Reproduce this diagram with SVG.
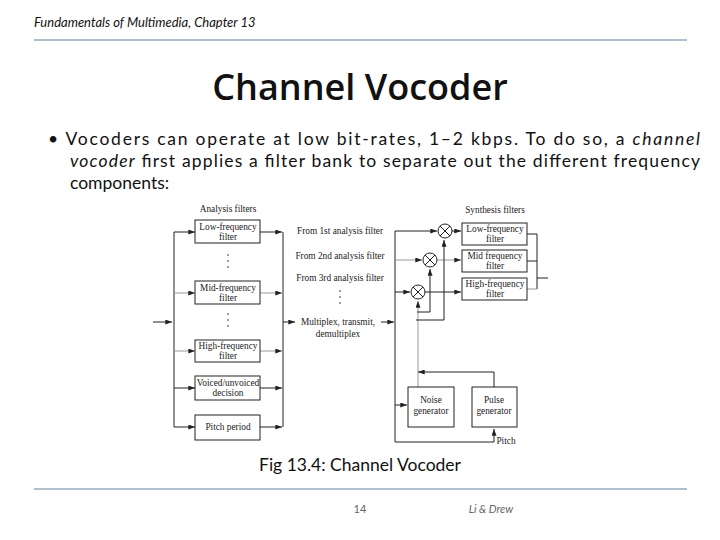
<svg xmlns="http://www.w3.org/2000/svg" width="720" height="540" viewBox="0 0 720 540">
<style>
.s{font-family:"Liberation Serif",serif;font-size:9.3px;fill:#222;text-anchor:middle}
.b{fill:#fff;stroke:#222;stroke-width:1}
.l{fill:none;stroke:#222;stroke-width:1}
.g{fill:none;stroke:#999;stroke-width:1}
.t{font-family:"Lato","Open Sans",sans-serif;fill:#111}
.dot{fill:#222}
</style>
<defs><marker id="a" viewBox="0 0 8 6" refX="8" refY="3" markerWidth="7" markerHeight="5" orient="auto" markerUnits="userSpaceOnUse"><path d="M0,0L8,3L0,6z" fill="#222"/></marker></defs>
<rect width="720" height="540" fill="#fff"/>
<text x="34" y="27" class="t" font-size="13" font-style="italic">Fundamentals of Multimedia, Chapter 13</text>
<line x1="34" y1="40" x2="687" y2="40" stroke="#5b7fa6" stroke-width="1"/>
<text x="360" y="100" font-family="'Open Sans',sans-serif" font-size="36" font-weight="600" fill="#111" text-anchor="middle">Channel Vocoder</text>
<text x="48" y="145" class="t" font-size="17.5" textLength="652" lengthAdjust="spacing">• Vocoders can operate at low bit-rates, 1–2 kbps. To do so, a <tspan font-style="italic">channel</tspan></text>
<text x="70" y="167" class="t" font-size="17.5" textLength="630" lengthAdjust="spacing"><tspan font-style="italic">vocoder</tspan> first applies a filter bank to separate out the different frequency</text>
<text x="70" y="189" class="t" font-size="17.5">components:</text>
<g id="connectors">
<path class="l" d="M153,322H172"  marker-end="url(#a)"/>
<path class="l" d="M174,232V427"/>
<path class="l" d="M174,232H195" marker-end="url(#a)"/>
<path class="g" d="M174,293H195" marker-end="url(#a)"/>
<path class="g" d="M174,351H195" marker-end="url(#a)"/>
<path class="l" d="M174,388H195" marker-end="url(#a)"/>
<path class="l" d="M174,427H195" marker-end="url(#a)"/>
<path class="l" d="M260,232H282" marker-end="url(#a)"/>
<path class="g" d="M260,293H282" marker-end="url(#a)"/>
<path class="g" d="M260,351H282" marker-end="url(#a)"/>
<path class="l" d="M260,388H282" marker-end="url(#a)"/>
<path class="l" d="M260,427H282" marker-end="url(#a)"/>
<path class="l" d="M283,232V427"/>
<path class="l" d="M283,322H295" marker-end="url(#a)"/>
<path class="l" d="M381,322H394" marker-end="url(#a)"/>
<path class="l" d="M395,231V442H494V429" marker-end="url(#a)"/>
<path class="l" d="M395,231H437" marker-end="url(#a)"/>
<path class="g" d="M396,260H422" marker-end="url(#a)"/>
<path class="l" d="M395,292H410" marker-end="url(#a)"/>
<path class="l" d="M395,405H407" marker-end="url(#a)"/>
<path class="l" d="M452,231H461" marker-end="url(#a)"/>
<path class="g" d="M437,260H461" marker-end="url(#a)"/>
<path class="l" d="M425,292H461" marker-end="url(#a)"/>
<path class="g" d="M418,387V301" marker-end="url(#a)"/>
<path class="l" d="M417,312H430V269" marker-end="url(#a)"/>
<path class="l" d="M416,320H444V240" marker-end="url(#a)"/>
<path class="l" d="M494,387V372H418" marker-end="url(#a)"/>
<path class="l" d="M527,234H537M527,261H537M537,234V289M537,278H548"/>
<path class="g" d="M527,289H537"/>
</g>
<g id="mult1"><circle cx="445" cy="231" r="7" class="b"/><path class="l" d="M440,226L450,236M450,226L440,236"/></g>
<g id="mult2"><circle cx="430" cy="260" r="7" class="b"/><path class="l" d="M425,255L435,265M435,255L425,265"/></g>
<g id="mult3"><circle cx="418" cy="292" r="7" class="b"/><path class="l" d="M413,287L423,297M423,287L413,297"/></g>
<g id="analysis">
<text x="228" y="212" class="s">Analysis filters</text>
<g id="a-low"><rect x="195" y="220" width="65" height="23" class="b"/><text x="228" y="230" class="s">Low-frequency</text><text x="228" y="240" class="s">filter</text></g>
<circle cx="228" cy="255" r="0.8" class="dot"/><circle cx="228" cy="261" r="0.8" class="dot"/><circle cx="228" cy="267" r="0.8" class="dot"/>
<g id="a-mid"><rect x="195" y="281" width="65" height="23" class="b"/><text x="228" y="291" class="s">Mid-frequency</text><text x="228" y="301" class="s">filter</text></g>
<circle cx="228" cy="314" r="0.8" class="dot"/><circle cx="228" cy="320" r="0.8" class="dot"/><circle cx="228" cy="326" r="0.8" class="dot"/>
<g id="a-high"><rect x="195" y="340" width="65" height="22" class="b"/><text x="228" y="349" class="s">High-frequency</text><text x="228" y="359" class="s">filter</text></g>
<g id="a-voiced"><rect x="195" y="376" width="65" height="24" class="b"/><text x="228" y="386" class="s">Voiced/unvoiced</text><text x="228" y="396" class="s">decision</text></g>
<g id="a-pitch"><rect x="195" y="415" width="65" height="25" class="b"/><text x="228" y="430" class="s">Pitch period</text></g>
</g>
<g id="mux">
<text x="340" y="234" class="s">From 1st analysis filter</text>
<text x="340" y="259" class="s">From 2nd analysis filter</text>
<text x="340" y="281" class="s">From 3rd analysis filter</text>
<circle cx="340" cy="291" r="0.8" class="dot"/><circle cx="340" cy="297" r="0.8" class="dot"/><circle cx="340" cy="303" r="0.8" class="dot"/>
<text x="338" y="325" class="s">Multiplex, transmit,</text>
<text x="338" y="337" class="s">demultiplex</text>
</g>
<g id="synthesis">
<text x="495" y="213" class="s">Synthesis filters</text>
<g id="s-low"><rect x="462" y="223" width="65" height="22" class="b"/><text x="495" y="232" class="s">Low-frequency</text><text x="495" y="242" class="s">filter</text></g>
<g id="s-mid"><rect x="462" y="250" width="65" height="22" class="b"/><text x="495" y="259" class="s">Mid frequency</text><text x="495" y="269" class="s">filter</text></g>
<g id="s-high"><rect x="462" y="278" width="65" height="22" class="b"/><text x="495" y="287" class="s">High-frequency</text><text x="495" y="297" class="s">filter</text></g>
</g>
<g id="noise"><rect x="408" y="387" width="46" height="40" class="b"/><text x="431" y="403" class="s">Noise</text><text x="431" y="414" class="s">generator</text></g>
<g id="pulse"><rect x="472" y="387" width="45" height="40" class="b"/><text x="494" y="403" class="s">Pulse</text><text x="494" y="414" class="s">generator</text></g>
<text x="506" y="444" class="s">Pitch</text>
<text x="360" y="471" class="t" font-size="17.5" text-anchor="middle">Fig 13.4: Channel Vocoder</text>
<line x1="34" y1="489" x2="687" y2="489" stroke="#5b7fa6" stroke-width="1"/>
<text x="360" y="513" class="t" font-size="11" text-anchor="middle" style="fill:#666">14</text>
<text x="491" y="513" class="t" font-size="11" font-style="italic" text-anchor="middle" style="fill:#666">Li &amp; Drew</text>
</svg>
